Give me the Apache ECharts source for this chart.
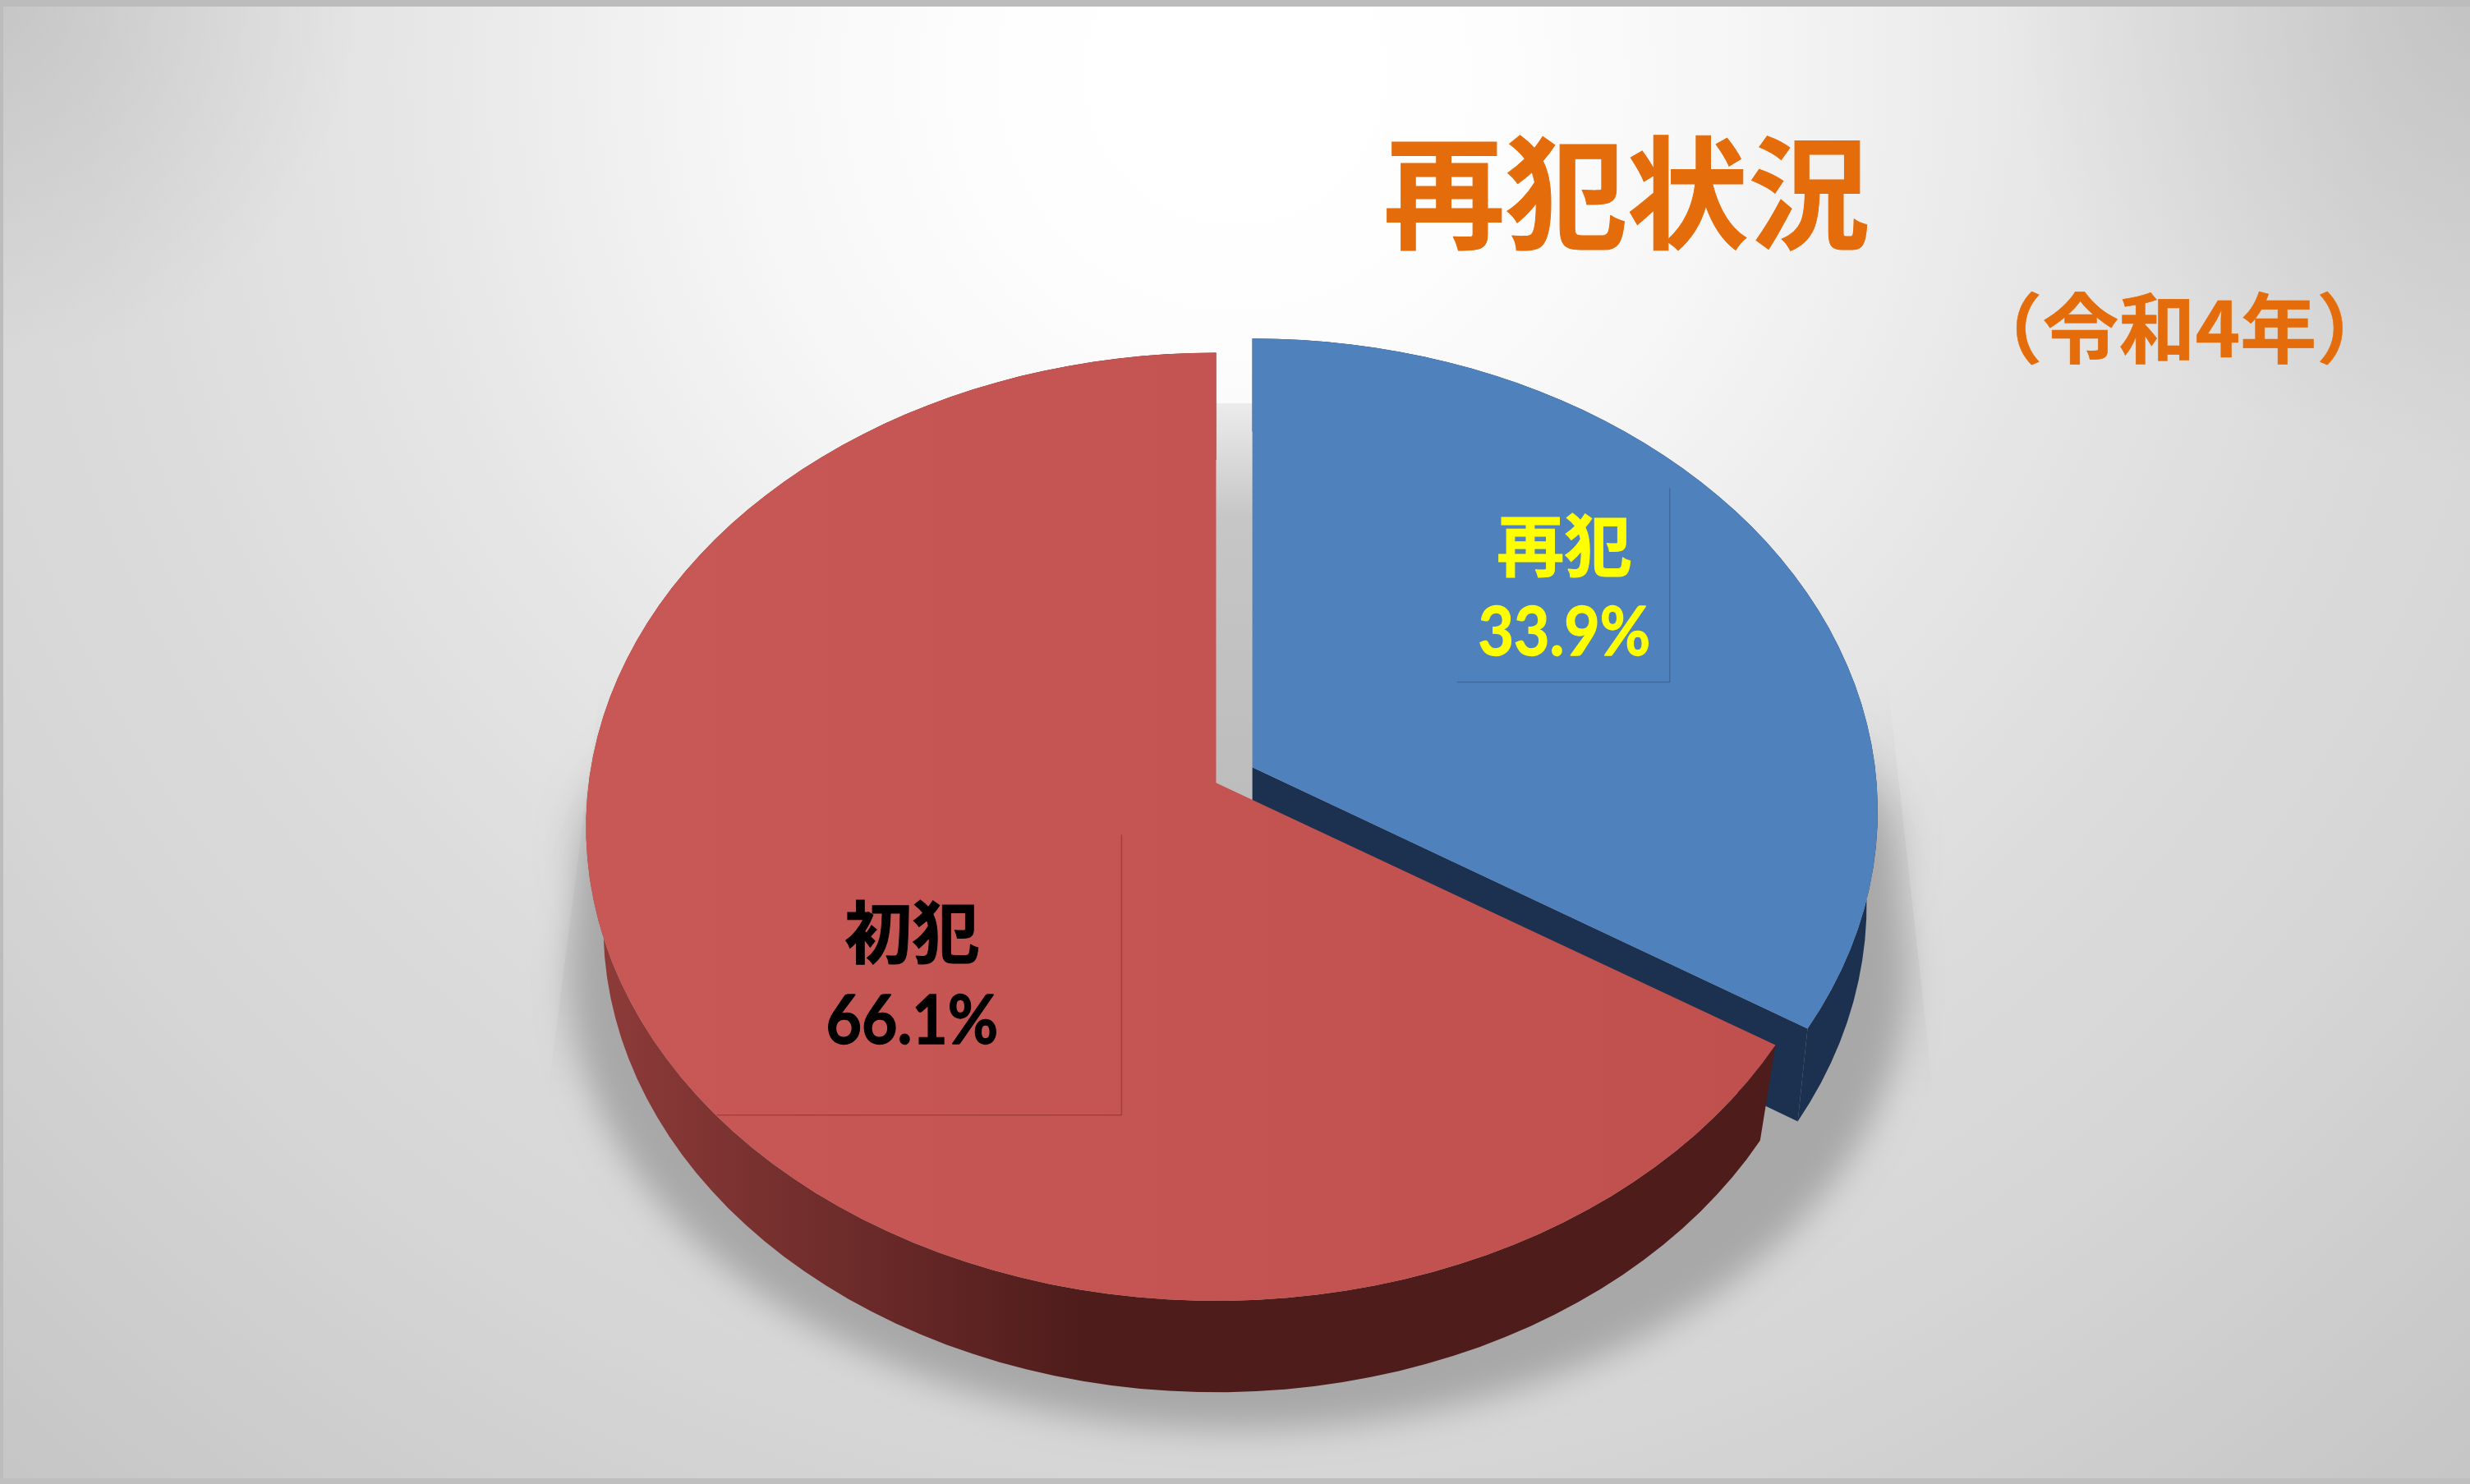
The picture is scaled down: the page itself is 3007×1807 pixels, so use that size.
<!DOCTYPE html>
<html lang="ja">
<head>
<meta charset="utf-8">
<style>html,body{margin:0;padding:0;width:100%;height:100%;overflow:hidden}#chart{width:3007px;height:1807px}</style>
<script src="https://cdn.jsdelivr.net/npm/echarts@6/dist/echarts.min.js"></script>
</head>
<body>
<div id="chart"></div>
<script>
// ---- data ----
const categories = ['再犯', '初犯'];
const values = [33.9, 66.1];
const titleText = '再犯状況';
const subtitleText = '（令和4年）';

// ---- style / layout (not data) ----
const S = 3007 / 1568;
const K = 0.093; // perspective shift of the pie centre
const faces = [
  { top: { cx: 795, cy: 515, rx: 397, ry: 300 }, bot: { cx: 795, cy: 574, rx: 390, ry: 300 } },
  { top: { cx: 772, cy: 525, rx: 400, ry: 301 }, bot: { cx: 772, cy: 588, rx: 389, ry: 296 } }
];
const topFill = [
  '#4f81bd',
  { type: 'linear', x: 0, y: 0, x2: 1, y2: 0, colorStops: [{ offset: 0, color: '#c75856' }, { offset: 1, color: '#c0504d' }] }
];
const wallFill = [
  '#1c3150',
  { type: 'linear', x: 0, y: 0, x2: 1, y2: 0, colorStops: [{ offset: 0, color: '#8f3c3a' }, { offset: 0.42, color: '#4e1c1b' }, { offset: 1, color: '#4e1c1b' }] }
];
const labelColor = ['#ffff00', '#000000'];
const labelCenter = [[993, 346, 402], [579, 592, 649]];
const labelBox = [
  { x1: 925, x2: 1060, y1: 310, y2: 433, color: 'rgba(40,70,110,0.4)' },
  { x1: 455, x2: 712, y1: 530, y2: 708, color: 'rgba(110,30,30,0.4)' }
];
const CJK = '"Noto Sans CJK JP","Noto Sans CJK SC",sans-serif';
const ORANGE = '#e46c0a';
const OFF = 6000;

function scaled(e) { return { cx: e.cx * S, cy: e.cy * S, rx: e.rx * S, ry: e.ry * S }; }
function rim(e, deg) {
  const a = deg * Math.PI / 180, x = Math.sin(a), y = Math.cos(a), d = 1 + K * y;
  const u = x * Math.sqrt(1 - K * K) / d, v = (y + K) / d;
  return [e.cx + e.rx * u, e.cy - e.ry * v];
}
function apex(e) { return [e.cx, e.cy - e.ry * K]; }
function arc(e, from, to) {
  const n = Math.ceil(Math.abs(to - from) / 2.5), out = [];
  for (let i = 0; i <= n; i++) out.push(rim(e, from + (to - from) * i / n));
  return out;
}
function softEllipse(cx, cy, rx, ry, blur, color) {
  const pts = [];
  for (let i = 0; i < 180; i++) {
    const a = i * 2 * Math.PI / 180;
    pts.push([cx * S + rx * S * Math.cos(a) - OFF, cy * S + ry * S * Math.sin(a)]);
  }
  return { type: 'polygon', shape: { points: pts }, style: { fill: '#000', shadowBlur: blur, shadowColor: color, shadowOffsetX: OFF } };
}
const total = values.reduce((a, b) => a + b, 0);
const starts = values.map((_, i) => values.slice(0, i).reduce((a, b) => a + b, 0) / total * 360);

function renderBackdrop() {
  const rect = (x, y, w, h, fill) => ({ type: 'rect', shape: { x: x, y: y, width: w, height: h }, style: { fill: fill } });
  const corner = (cxFrac, cyFrac, alpha) => ({ type: 'radial', x: cxFrac, y: cyFrac, r: 1, colorStops: [{ offset: 0, color: 'rgba(0,0,0,' + alpha + ')' }, { offset: 1, color: 'rgba(0,0,0,0)' }] });
  return {
    type: 'group', children: [
      rect(0, 0, 230 * S, 230 * S, corner(0, 0, 0.09)),
      rect(1268 * S, 0, 300 * S, 300 * S, corner(1, 0, 0.1)),
      rect(0, 0, 3007, 8, '#bcbcbc'),
      rect(0, 0, 4, 1807, '#bcbcbc'),
      rect(0, 1800, 3007, 7, '#bfbfbf'),
      // faint halo behind the pie
      { type: 'polygon', shape: { points: [[382 * S, 430 * S], [347 * S, 700 * S], [1228 * S, 700 * S], [1198 * S, 430 * S]] },
        style: { fill: { type: 'linear', x: 0, y: 0, x2: 0, y2: 1, colorStops: [{ offset: 0, color: 'rgba(0,0,0,0)' }, { offset: 0.3, color: 'rgba(0,0,0,0.045)' }, { offset: 0.65, color: 'rgba(0,0,0,0.05)' }, { offset: 1, color: 'rgba(0,0,0,0)' }] } } },
      softEllipse(786, 540, 415, 150, 60, 'rgba(150,150,150,0.75)'),
      softEllipse(786, 620, 424, 288, 40, '#a8a8a8'),
      // shadow seen through the gap between the slices
      { type: 'rect', shape: { x: 740 * S, y: 256 * S, width: 90 * S, height: 260 * S },
        style: { fill: { type: 'linear', x: 0, y: 0, x2: 0, y2: 1, colorStops: [{ offset: 0, color: '#ececec' }, { offset: 0.28, color: '#c6c6c6' }, { offset: 1, color: '#bcbcbc' }] } } }
    ]
  };
}
function renderSlice(params, api) {
  const i = params.dataIndex;
  const from = starts[i], to = from + api.value(1) / total * 360;
  const T = scaled(faces[i].top), B = scaled(faces[i].bot);
  const kids = [];
  kids.push({ type: 'polygon', shape: { points: arc(T, from, to).concat(arc(B, to, from)) }, style: { fill: wallFill[i] } });
  if (i === 0) {
    kids.push({ type: 'polygon', shape: { points: [apex(T), rim(T, to), rim(B, to), apex(B)] }, style: { fill: wallFill[i] } });
  }
  kids.push({ type: 'polygon', shape: { points: [apex(T)].concat(arc(T, from, to)) }, style: { fill: topFill[i] } });
  return { type: 'group', children: kids };
}
function renderLabels(params, api) {
  const i = params.dataIndex, c = labelCenter[i], b = labelBox[i];
  const line = (x1, y1, x2, y2) => ({ type: 'line', shape: { x1: x1 * S, y1: y1 * S, x2: x2 * S, y2: y2 * S }, style: { stroke: b.color, lineWidth: 1.5 } });
  return {
    type: 'group', children: [
      line(b.x2, b.y1, b.x2, b.y2),
      line(b.x1, b.y2, b.x2, b.y2),
      { type: 'text', x: c[0] * S, y: c[1] * S, style: { text: categories[i], fill: labelColor[i], stroke: labelColor[i], lineWidth: 1, font: 'bold 82px ' + CJK, textAlign: 'center', textVerticalAlign: 'middle' } },
      { type: 'text', x: c[0] * S, y: c[2] * S, scaleY: 1.1, style: { text: api.value(1).toFixed(1) + '%', fill: labelColor[i], stroke: labelColor[i], lineWidth: 1.2, font: 'bold 75px Lato,' + CJK, textAlign: 'center', textVerticalAlign: 'middle' } }
    ]
  };
}

const chart = echarts.init(document.getElementById('chart'), null, { renderer: 'canvas', width: 3007, height: 1807 });
chart.setOption({
  animation: false,
  backgroundColor: {
    type: 'radial', x: 0.5, y: 0.05, r: 1.245,
    colorStops: [
      { offset: 0, color: '#ffffff' }, { offset: 0.12, color: '#fefefe' }, { offset: 0.27, color: '#f6f6f6' },
      { offset: 0.45, color: '#e6e6e6' }, { offset: 0.62, color: '#dbdbdb' }, { offset: 0.75, color: '#d6d6d6' }, { offset: 1, color: '#c6c6c6' }
    ]
  },
  title: [
    { text: titleText, left: 1030 * S, top: 120 * S, textAlign: 'center', textVerticalAlign: 'middle', z: 10, textStyle: { color: ORANGE, textBorderColor: ORANGE, textBorderWidth: 1, fontFamily: CJK, fontWeight: 'bold', fontSize: 148 } },
    { text: subtitleText, left: 1381 * S, top: 206 * S, textAlign: 'center', textVerticalAlign: 'middle', z: 10, textStyle: { color: ORANGE, textBorderColor: ORANGE, textBorderWidth: 0.5, fontFamily: CJK, fontWeight: 'bold', fontSize: 93 } }
  ],
  series: [
    { type: 'custom', coordinateSystem: 'none', silent: true, z: 1, renderItem: renderBackdrop, data: [[0]] },
    { type: 'custom', coordinateSystem: 'none', silent: true, z: 2, renderItem: renderSlice, data: categories.map((c, i) => ({ name: c, value: [i, values[i]] })) },
    { type: 'custom', coordinateSystem: 'none', silent: true, z: 3, renderItem: renderLabels, data: categories.map((c, i) => ({ name: c, value: [i, values[i]] })) }
  ]
});
</script>
</body>
</html>
